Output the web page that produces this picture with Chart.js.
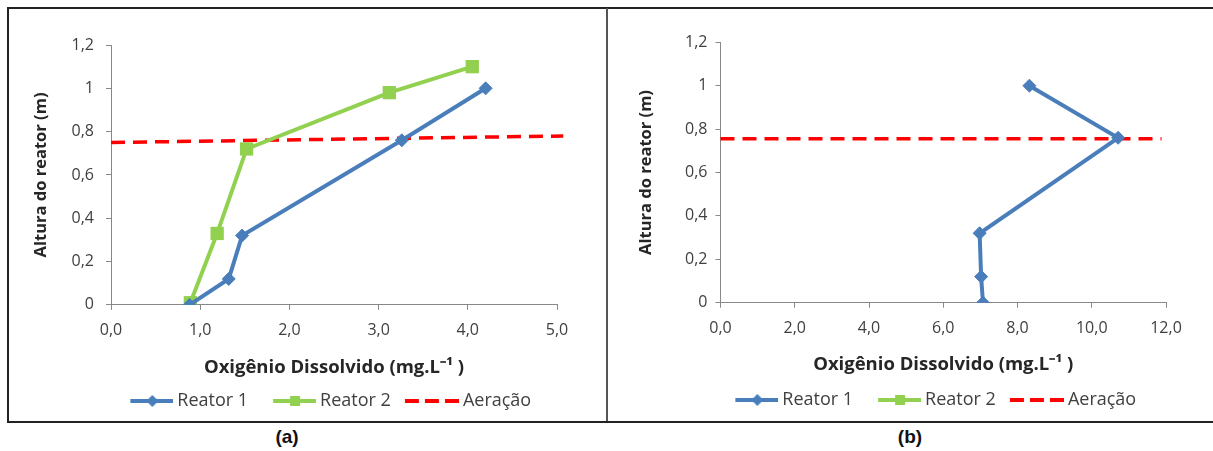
<!DOCTYPE html>
<html lang="pt">

<head>
    <meta charset="UTF-8">
    <title>Oxigênio Dissolvido</title>
    <script src="https://cdn.jsdelivr.net/npm/chart.js"></script>
    <style>
        body { margin: 0; background: #fff; overflow: hidden; width: 1213px; height: 451px; position: relative; }
        #frame { position: absolute; left: 7px; top: 7px; width: 1230px; height: 412px; border: 2px solid #222; }
        #divider { position: absolute; left: 606px; top: 8px; width: 2px; height: 413px; background: #555; }
        .panel { position: absolute; top: 10px; }
        .tag { position: absolute; top: 426px; width: 60px; text-align: center; font: bold 19px Arial, "Liberation Sans", sans-serif; color: #111; }
    </style>
</head>

<body>
    <div id="frame"></div>
    <div id="divider"></div>
    <div class="panel" style="left:10px"><canvas id="chartA" width="660" height="410"></canvas></div>
    <div class="panel" style="left:609px"><canvas id="chartB" width="680" height="409"></canvas></div>
    <div class="tag" style="left:257px">(a)</div>
    <div class="tag" style="left:880px">(b)</div>

    <script>
        // Alturas (m) e OD (mg/L)
        const alturasReator1 = [0, 0.12, 0.32, 0.76, 1.0];
        const odReator1A = [0.88, 1.32, 1.47, 3.26, 4.2];
        const alturasReator2A = [0.01, 0.33, 0.72, 0.98, 1.1];
        const odReator2A = [0.89, 1.19, 1.52, 3.12, 4.05];
        const aeracaoA_x = [0, 5.07];
        const aeracaoA_y = [0.75, 0.78];

        const odReator1B = [7.07, 7.02, 6.98, 10.71, 8.32];
        const aeracaoB_x = [0, 11.88];
        const aeracaoB_y = [0.755, 0.755];

        const seriesNames = ['Reator 1', 'Reator 2', 'Aeração'];
        const xTitle = 'Oxigênio Dissolvido (mg.L⁻¹ )';
        const yTitle = 'Altura do reator (m)';

        const BLUE = '#4A7EBB';
        const GREEN = '#92D050';
        const RED = '#FF0000';
        const FONT = '"Open Sans", sans-serif';
        const BOX = 50;

        function pts(xs, ys) {
            return xs.map((x, i) => ({ x: x, y: ys[i] }));
        }

        // legend images: line + marker, right aligned so it ends just before the text
        function legendIcon(kind) {
            const c = document.createElement('canvas');
            c.width = BOX + 10;
            c.height = 16;
            const g = c.getContext('2d');
            const end = c.width;
            g.lineWidth = 4;
            if (kind === 'dash') {
                g.strokeStyle = RED;
                g.setLineDash([14, 6]);
                g.beginPath(); g.moveTo(end - 54, 8); g.lineTo(end, 8); g.stroke();
                return c;
            }
            const col = kind === 'diamond' ? BLUE : GREEN;
            const mid = end - 21;
            g.strokeStyle = col;
            g.fillStyle = col;
            g.beginPath(); g.moveTo(end - 43, 8); g.lineTo(end, 8); g.stroke();
            g.beginPath();
            if (kind === 'diamond') {
                g.moveTo(mid, 2); g.lineTo(mid + 6, 8); g.lineTo(mid, 14); g.lineTo(mid - 6, 8);
            } else {
                g.rect(mid - 5, 3, 10, 10);
            }
            g.fill();
            return c;
        }
        const icons = [legendIcon('diamond'), legendIcon('square'), legendIcon('dash')];

        function makeChart(id, datasets, cfg) {
            const ctx = document.getElementById(id).getContext('2d');
            return new Chart(ctx, {
                type: 'scatter',
                data: { datasets: datasets },
                options: {
                    responsive: false,
                    animation: false,
                    layout: { padding: { top: cfg.top, right: cfg.right, left: 0, bottom: 0 } },
                    plugins: {
                        tooltip: { enabled: false },
                        legend: {
                            position: 'bottom',
                            labels: {
                                usePointStyle: true,
                                pointStyleWidth: BOX,
                                padding: 13,
                                color: '#404040',
                                font: { family: FONT, size: 18 },
                                generateLabels: function (chart) {
                                    const items = Chart.defaults.plugins.legend.labels.generateLabels(chart);
                                    items.forEach((it, i) => { it.pointStyle = icons[i]; });
                                    return items;
                                }
                            }
                        }
                    },
                    scales: {
                        x: {
                            type: 'linear',
                            min: 0, max: cfg.xMax,
                            border: { color: '#888', width: 1 },
                            grid: { drawOnChartArea: false, drawTicks: true, tickLength: 5, color: '#888' },
                            ticks: {
                                stepSize: cfg.xStep, padding: cfg.xPad, color: '#404040',
                                font: { family: FONT, size: 16 },
                                callback: v => v.toFixed(1).replace('.', ',')
                            },
                            title: {
                                display: true, text: xTitle, color: '#262626',
                                font: { family: FONT, size: 18.5, weight: 'bold' },
                                padding: { top: 0, bottom: cfg.titleBottom }
                            },
                            afterFit: s => { s.height = cfg.xH; }
                        },
                        y: {
                            min: 0, max: 1.2,
                            border: { color: '#888', width: 1 },
                            grid: { drawOnChartArea: false, drawTicks: true, tickLength: 5, color: '#888' },
                            ticks: {
                                stepSize: 0.2, padding: cfg.yPad, color: '#404040',
                                font: { family: FONT, size: 16 },
                                callback: v => String(Math.round(v * 10) / 10).replace('.', ',')
                            },
                            title: {
                                display: true, text: yTitle, color: '#262626',
                                font: { family: FONT, size: 16.5, weight: 'bold' },
                                padding: { top: cfg.yTitlePad, bottom: 0 }
                            },
                            afterFit: s => { s.width = cfg.yW; }
                        },
                        spacer: {
                            type: 'linear', position: 'right',
                            grid: { display: false }, border: { display: false },
                            ticks: { display: false },
                            afterFit: s => { s.width = cfg.spacer; }
                        }
                    }
                }
            });
        }

        function reator1(data) {
            return {
                label: seriesNames[0], data: data, showLine: true,
                borderColor: BLUE, backgroundColor: BLUE, borderWidth: 4,
                pointStyle: 'rectRot', pointRadius: 6.5, pointBorderWidth: 1
            };
        }
        function reator2(data) {
            return {
                label: seriesNames[1], data: data, showLine: true,
                borderColor: GREEN, backgroundColor: GREEN, borderWidth: 4,
                pointStyle: 'rect', pointRadius: 9.4, pointBorderWidth: 0
            };
        }
        function aeracao(data) {
            return {
                label: seriesNames[2], data: data, showLine: true, clip: false,
                borderColor: RED, backgroundColor: RED, borderWidth: 3.5,
                borderDash: [14, 8], pointRadius: 0
            };
        }

        makeChart('chartA', [
            reator1(pts(odReator1A, alturasReator1)),
            reator2(pts(odReator2A, alturasReator2A)),
            aeracao(pts(aeracaoA_x, aeracaoA_y))
        ], { xMax: 5, xStep: 1, top: 35, right: 30.5, yW: 101, spacer: 82.5,
             yTitlePad: 21, yPad: 12, xPad: 11.4, xH: 74.1, titleBottom: 0 });

        makeChart('chartB', [
            reator1(pts(odReator1B, alturasReator1)),
            reator2([]),
            aeracao(pts(aeracaoB_x, aeracaoB_y))
        ], { xMax: 12, xStep: 2, top: 32.3, right: 38.5, yW: 111.5, spacer: 84.5,
             yTitlePad: 27, yPad: 8, xPad: 10.7, xH: 75.3, titleBottom: 2 });
    </script>
</body>

</html>
